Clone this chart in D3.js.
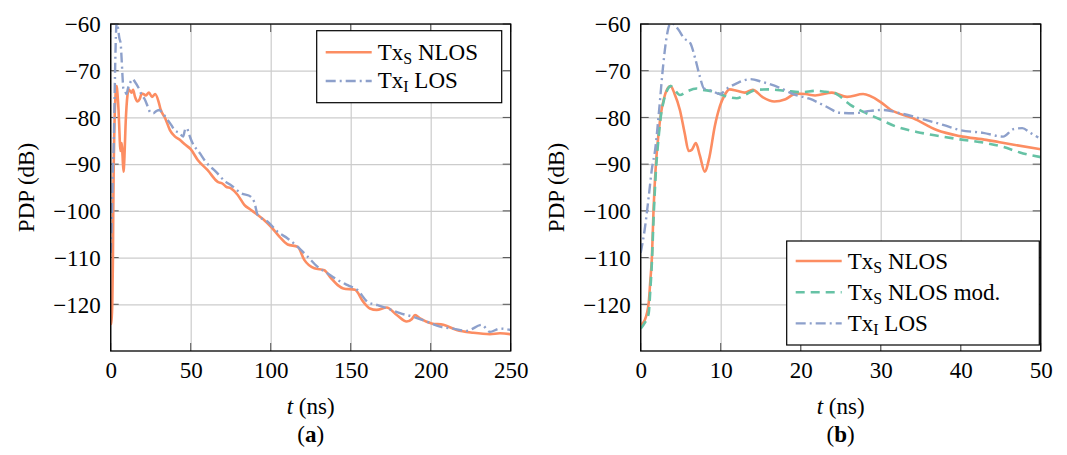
<!DOCTYPE html>
<html>
<head>
<meta charset="utf-8">
<script src="https://cdn.jsdelivr.net/npm/d3@7"></script>
<style>
  body { margin: 0; background: #fff; }
  text { font-family: "Liberation Serif", "DejaVu Serif", serif; fill: #000; }
</style>
</head>
<body>
<svg id="chart" width="1067" height="455"></svg>
<script>
// ---- data ----
const nlosT  = [0, 0.5, 1.0, 1.2, 1.4, 1.6, 1.9, 2.2, 2.5, 2.9, 3.3, 3.75, 4.2, 4.9, 5.5, 6.0, 6.4, 6.9, 7.4, 8.0, 8.6, 9.25, 9.9, 10.5, 11.1, 12, 13, 14, 15.2, 16.7, 18.1, 19.4, 20.6, 21.8, 23.9, 25.8, 27.8, 29.9, 31.2, 34.1, 37, 39.9, 43.2, 46.1, 50, 54.4, 60.6, 66.9, 70, 72, 75.2, 79.4, 83.5, 87.7, 91.9, 96, 100.2, 105.4, 110.6, 116.9, 121, 127.3, 133.5, 137.7, 141.9, 145.4, 152.7, 157.9, 162, 166.2, 172.5, 178.8, 185, 188.1, 190.2, 193.3, 200.6, 207.9, 216.2, 226.6, 237, 243.3, 250];
const nlosDb = [-124.4, -123.4, -119.7, -115, -110, -100, -90, -84, -79.5, -76, -74, -73.3, -74.8, -78.4, -83.4, -87.2, -86.9, -85.5, -88.2, -91.6, -88.4, -82, -77.6, -75.2, -74, -74.3, -74.7, -74.1, -75.6, -76.6, -76.1, -74.9, -75, -75.3, -74.7, -75.6, -75, -76.6, -78.3, -80.2, -82.7, -84, -84.8, -85.7, -86.8, -89.1, -91.3, -93.8, -94.2, -94.8, -95.2, -96.6, -98.7, -99.8, -100.9, -102, -103.4, -105.5, -107.2, -107.7, -110.5, -112.3, -112.7, -114.4, -115.9, -116.6, -116.9, -119.5, -120.9, -121.2, -120.7, -122.3, -123.7, -123.2, -122.3, -123, -124.1, -124.4, -125.5, -126.1, -126.4, -126.2, -126.4];

const modT  = [0, 0.5, 1.0, 1.2, 1.4, 1.6, 1.9, 2.2, 2.5, 2.9, 3.3, 3.75, 4.2, 4.9, 5.7, 7.0, 7.8, 8.9, 9.9, 11.1, 12, 13, 14.4, 16.1, 18.1, 20.2, 21.8, 23.1, 24.1, 26.2, 28.2, 29.9, 32, 34.5, 37.4, 39.9, 43.2, 45.3, 47.4, 50];
const modDb = [-125.2, -124, -121.9, -117, -111, -102, -91.5, -85, -80, -76.3, -74.2, -73.3, -74, -75.2, -74.5, -73.8, -74.1, -74.4, -75, -75.7, -75.9, -75.2, -74.1, -74, -74.3, -74.6, -74.3, -74.5, -74.7, -77.3, -79.1, -80.4, -82, -83.1, -84, -84.7, -85.5, -86.3, -87.5, -88.5];

const losT  = [0, 0.5, 1.0, 1.4, 1.8, 2.3, 2.8, 3.25, 3.6, 3.9, 4.3, 4.75, 5.4, 6.2, 6.8, 7.4, 7.9, 8.9, 9.9, 10.8, 12, 13.7, 15.2, 17.3, 19.4, 21.1, 23.1, 24.9, 26.6, 28.7, 30.3, 32.4, 34.9, 37.8, 39.9, 42.8, 45.3, 46.6, 47.7, 48.7, 49.7, 50.5, 55.8, 59.4, 65.7, 71.9, 75.2, 81.4, 87.7, 89.8, 91.9, 98.1, 104.4, 110.6, 116.9, 123.1, 129.4, 135.6, 141.9, 148.1, 154.4, 160.6, 166.9, 173.1, 180.8, 189.2, 197.5, 205.8, 214.1, 222.5, 231.9, 237, 243.3, 250];
const losDb = [-109, -104, -97, -91, -87, -78.5, -69, -62.7, -60.2, -59.8, -60.3, -61.3, -63, -64.1, -67.3, -71.3, -73.8, -74.3, -75, -73.8, -72.7, -71.8, -72.4, -73.6, -75.2, -76, -77.6, -79, -79.1, -78.6, -78.4, -79.1, -80.2, -81.6, -82.7, -83.3, -84.1, -82.5, -82.3, -83.3, -84.3, -85, -87.7, -89.5, -91.6, -93.8, -94.5, -96.2, -97, -98.2, -100.9, -102.3, -104.5, -105.9, -107.7, -109.8, -112, -113.4, -114.8, -115.9, -117, -119.5, -120.2, -120.9, -121.9, -122.7, -123.7, -124.8, -125.2, -125.7, -124.4, -125.9, -125.2, -125.5];

const yTicks  = [-120, -110, -100, -90, -80, -70, -60];
const xTicksA = [0, 50, 100, 150, 200, 250];
const xTicksB = [0, 10, 20, 30, 40, 50];

const colors = { nlos: "#fc8d62", mod: "#66c2a5", los: "#8da0cb" };

const svg = d3.select("#chart");
const W = 400, H = 327;
const fontSize = 23;

const y = d3.scaleLinear().domain([-130, -60]).range([H, 0]);

function zip(ts, vs) { return ts.map((t, i) => [t, vs[i]]); }

function label(sel, parts) {
  // parts: [text, "sub"|"it"|null]
  parts.forEach(p => {
    const ts = sel.append("tspan").text(p[0]);
    if (p[1] === "sub") ts.attr("font-size", 16).attr("baseline-shift", "-4");
    if (p[1] === "it") ts.attr("font-style", "italic");
  });
}

function panel(id, left, xMax, xTicks, series, legend, tag) {
  const g = svg.append("g").attr("transform", `translate(${left},24)`);
  const x = d3.scaleLinear().domain([0, xMax]).range([0, W]);

  g.append("clipPath").attr("id", "clip" + id)
    .append("rect").attr("width", W).attr("height", H);

  // grid
  g.append("g").attr("class", "grid")
    .attr("transform", `translate(0,${H})`)
    .call(d3.axisBottom(x).tickValues(xTicks).tickSize(-H).tickFormat(""));
  g.append("g").attr("class", "grid")
    .call(d3.axisLeft(y).tickValues(yTicks).tickSize(-W).tickFormat(""));
  g.selectAll(".grid .domain").remove();
  g.selectAll(".grid line").attr("stroke", "#cccccc").attr("stroke-width", 1.2);

  // inner ticks on all four sides
  const tk = 8;
  const ticks = g.append("g").attr("stroke", "#555").attr("stroke-width", 1);
  xTicks.forEach(v => {
    ticks.append("line").attr("x1", x(v)).attr("x2", x(v)).attr("y1", H).attr("y2", H - tk);
    ticks.append("line").attr("x1", x(v)).attr("x2", x(v)).attr("y1", 0).attr("y2", tk);
  });
  yTicks.forEach(v => {
    ticks.append("line").attr("x1", 0).attr("x2", tk).attr("y1", y(v)).attr("y2", y(v));
    ticks.append("line").attr("x1", W).attr("x2", W - tk).attr("y1", y(v)).attr("y2", y(v));
  });

  // series
  const line = d3.line().x(d => x(d[0])).y(d => y(d[1])).curve(d3.curveMonotoneX);
  const plot = g.append("g").attr("clip-path", `url(#clip${id})`);
  series.forEach(s => {
    plot.append("path")
      .datum(zip(s.t, s.v).filter(d => d[0] <= xMax))
      .attr("d", line)
      .attr("fill", "none")
      .attr("stroke", s.color)
      .attr("stroke-width", s.width)
      .attr("stroke-dasharray", s.dash)
      .attr("stroke-linejoin", "round");
  });

  // frame
  g.append("rect").attr("width", W).attr("height", H)
    .attr("fill", "none").attr("stroke", "#000").attr("stroke-width", 1.3);

  // tick labels
  const xa = g.append("g").attr("transform", `translate(0,${H})`)
    .call(d3.axisBottom(x).tickValues(xTicks).tickSize(0).tickPadding(11).tickFormat(d3.format("d")));
  const ya = g.append("g")
    .call(d3.axisLeft(y).tickValues(yTicks).tickSize(0).tickPadding(10).tickFormat(d3.format("d")));
  [xa, ya].forEach(a => {
    a.select(".domain").remove();
    a.selectAll("text").attr("font-size", fontSize).attr("font-family", null);
  });
  ya.selectAll("text").attr("dy", "0.34em");

  // axis titles
  const yl = g.append("text").attr("font-size", fontSize).attr("text-anchor", "middle")
    .attr("transform", `translate(-77,${H / 2}) rotate(-90)`);
  label(yl, [["PDP (dB)", null]]);
  const xl = g.append("text").attr("font-size", fontSize).attr("text-anchor", "middle")
    .attr("x", W / 2).attr("y", 390);
  label(xl, [["t", "it"], [" (ns)", null]]);
  const tg = g.append("text").attr("font-size", fontSize).attr("text-anchor", "middle")
    .attr("x", W / 2).attr("y", 418);
  tg.append("tspan").text("(");
  tg.append("tspan").attr("font-weight", "bold").text(tag);
  tg.append("tspan").text(")");

  // legend
  const lg = g.append("g").attr("transform", `translate(${legend.x},${legend.y})`);
  lg.append("rect").attr("width", legend.w).attr("height", legend.h)
    .attr("fill", "#fff").attr("stroke", "#000").attr("stroke-width", 1.2);
  series.forEach((s, i) => {
    const cy = legend.row0 + i * legend.step;
    lg.append("line").attr("x1", 9).attr("x2", 55).attr("y1", cy).attr("y2", cy)
      .attr("stroke", s.color).attr("stroke-width", s.width).attr("stroke-dasharray", s.dash);
    const t = lg.append("text").attr("font-size", fontSize).attr("x", 61).attr("y", cy + 7.5);
    label(t, s.label);
  });
}

const sNlos = { t: nlosT, v: nlosDb, color: colors.nlos, width: 2.6, dash: null,
  label: [["Tx", null], ["S", "sub"], [" NLOS", null]] };
const sMod = { t: modT, v: modDb, color: colors.mod, width: 2.6, dash: "9,6",
  label: [["Tx", null], ["S", "sub"], [" NLOS mod.", null]] };
const sLos = { t: losT, v: losDb, color: colors.los, width: 2.4, dash: "10,4,2,4",
  label: [["Tx", null], ["I", "sub"], [" LOS", null]] };

panel("a", 110.7, 250, xTicksA, [sNlos, sLos],
  { x: 206, y: 6.7, w: 185, h: 72, row0: 21.6, step: 28.7 }, "a");
panel("b", 640.7, 50, xTicksB, [sNlos, sMod, sLos],
  { x: 146, y: 217, w: 252.6, h: 104, row0: 20, step: 31.2 }, "b");
</script>
</body>
</html>
